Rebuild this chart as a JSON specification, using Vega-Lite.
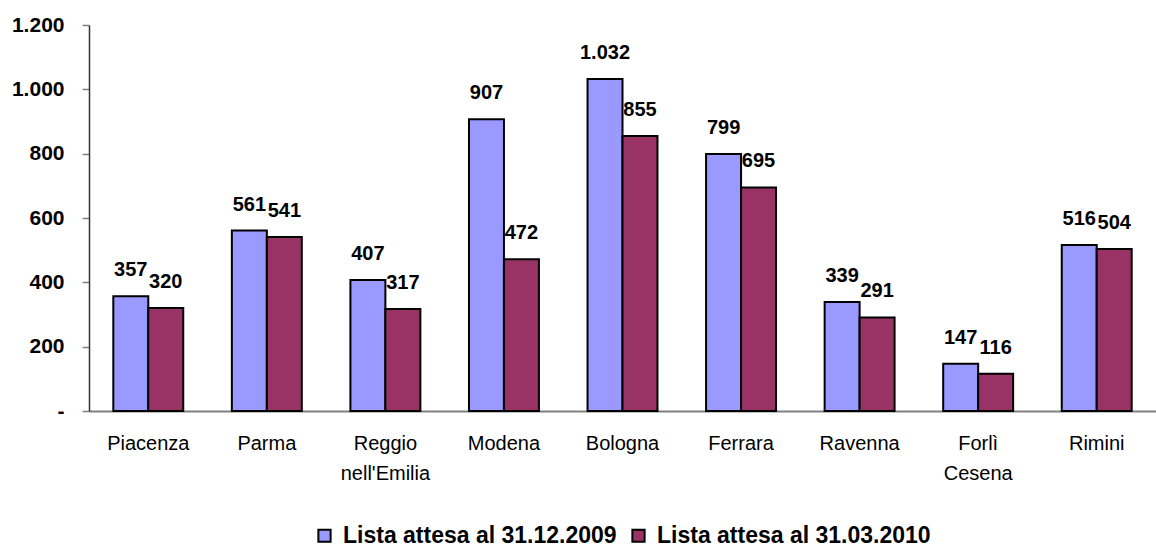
{
  "$schema": "https://vega.github.io/schema/vega-lite/v6.json",
  "width": 1067,
  "height": 386,
  "autosize": {"type": "none"},
  "padding": {"left": 89, "top": 25, "right": 0, "bottom": 136},
  "background": "white",
  "config": {
    "font": "Liberation Sans",
    "view": {"stroke": null},
    "locale": {"number": {"decimal": ",", "thousands": ".", "grouping": [3], "currency": ["€", ""]}}
  },
  "data": {
    "values": [
      {"provincia": "Piacenza", "serie": "Lista attesa al 31.12.2009", "valore": 357},
      {"provincia": "Piacenza", "serie": "Lista attesa al 31.03.2010", "valore": 320},
      {"provincia": "Parma", "serie": "Lista attesa al 31.12.2009", "valore": 561},
      {"provincia": "Parma", "serie": "Lista attesa al 31.03.2010", "valore": 541},
      {"provincia": "Reggio nell'Emilia", "serie": "Lista attesa al 31.12.2009", "valore": 407},
      {"provincia": "Reggio nell'Emilia", "serie": "Lista attesa al 31.03.2010", "valore": 317},
      {"provincia": "Modena", "serie": "Lista attesa al 31.12.2009", "valore": 907},
      {"provincia": "Modena", "serie": "Lista attesa al 31.03.2010", "valore": 472},
      {"provincia": "Bologna", "serie": "Lista attesa al 31.12.2009", "valore": 1032},
      {"provincia": "Bologna", "serie": "Lista attesa al 31.03.2010", "valore": 855},
      {"provincia": "Ferrara", "serie": "Lista attesa al 31.12.2009", "valore": 799},
      {"provincia": "Ferrara", "serie": "Lista attesa al 31.03.2010", "valore": 695},
      {"provincia": "Ravenna", "serie": "Lista attesa al 31.12.2009", "valore": 339},
      {"provincia": "Ravenna", "serie": "Lista attesa al 31.03.2010", "valore": 291},
      {"provincia": "Forlì Cesena", "serie": "Lista attesa al 31.12.2009", "valore": 147},
      {"provincia": "Forlì Cesena", "serie": "Lista attesa al 31.03.2010", "valore": 116},
      {"provincia": "Rimini", "serie": "Lista attesa al 31.12.2009", "valore": 516},
      {"provincia": "Rimini", "serie": "Lista attesa al 31.03.2010", "valore": 504}
    ]
  },
  "encoding": {
    "x": {
      "field": "provincia",
      "type": "nominal",
      "sort": null,
      "scale": {"paddingInner": 0.41, "paddingOuter": 0.205},
      "axis": {
        "title": null,
        "labelAngle": 0,
        "labelExpr": "split(datum.label, ' ')",
        "labelFontSize": 20,
        "labelColor": "black",
        "labelLineHeight": 30,
        "labelPadding": 32,
        "labelBaseline": "middle",
        "labelLimit": 200,
        "ticks": false,
        "domainColor": "#808080",
        "domainWidth": 2
      }
    },
    "xOffset": {
      "field": "serie",
      "type": "nominal",
      "scale": {"domain": ["Lista attesa al 31.12.2009", "Lista attesa al 31.03.2010"]}
    },
    "y": {
      "field": "valore",
      "type": "quantitative",
      "scale": {"domain": [0, 1200], "nice": false},
      "axis": {
        "title": null,
        "values": [0, 200, 400, 600, 800, 1000, 1200],
        "labelExpr": "datum.value == 0 ? '-' : format(datum.value, ',')",
        "labelFontSize": 21,
        "labelFontWeight": "bold",
        "labelColor": "black",
        "labelPadding": 18,
        "grid": false,
        "tickColor": "#808080",
        "tickSize": 7,
        "tickWidth": 1.5,
        "domainColor": "#333333",
        "domainWidth": 1.5
      }
    }
  },
  "layer": [
    {
      "mark": {"type": "bar", "stroke": "black", "strokeWidth": 2},
      "encoding": {
        "color": {
          "field": "serie",
          "type": "nominal",
          "scale": {"domain": ["Lista attesa al 31.12.2009", "Lista attesa al 31.03.2010"], "range": ["#9999FF", "#993366"]},
          "legend": {
            "title": null,
            "orient": "none",
            "direction": "horizontal",
            "legendX": 224,
            "legendY": 499,
            "symbolType": "square",
            "symbolSize": 150,
            "symbolStrokeColor": "black",
            "symbolStrokeWidth": 2,
            "labelFontSize": 23,
            "labelFontWeight": "bold",
            "labelColor": "black",
            "labelLimit": 400,
            "columnPadding": 10,
            "labelOffset": 7
          }
        }
      }
    },
    {
      "mark": {"type": "text", "fontSize": 20, "fontWeight": "bold", "baseline": "middle", "dy": -26, "color": "black"},
      "encoding": {
        "text": {"field": "valore", "type": "quantitative", "format": ","}
      }
    }
  ]
}
